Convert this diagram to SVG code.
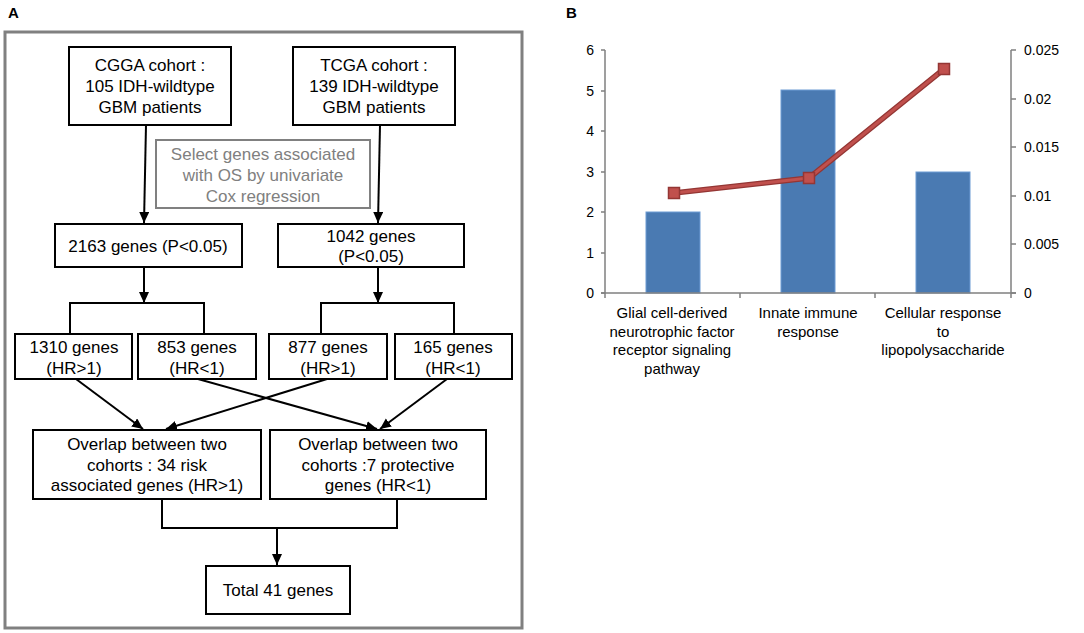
<svg xmlns="http://www.w3.org/2000/svg" width="1084" height="633" viewBox="0 0 1084 633">
<style>
text{font-family:"Liberation Sans",Arial,sans-serif;fill:#000}
.lbl{font-size:17px;text-anchor:middle}
.gray{fill:#808080}
.box{fill:#fff;stroke:#000;stroke-width:2}
.gbox{fill:#fff;stroke:#808080;stroke-width:2}
.ln{fill:none;stroke:#000;stroke-width:2}
.arr{fill:none;stroke:#000;stroke-width:2;marker-end:url(#ah)}
.panel{font-size:15px;font-weight:bold}
.tick{font-size:14px}
.xl{font-size:15px;text-anchor:middle}
.ax{stroke:#808080;stroke-width:1.5;fill:none}
.bar{fill:#4a7ab2;stroke:#6d9bd4;stroke-width:1}
</style>
<defs>
<marker id="ah" markerUnits="userSpaceOnUse" markerWidth="12" markerHeight="12" refX="11" refY="5" orient="auto">
<path d="M0,0 L11,5 L0,10 z" fill="#000"/>
</marker>
</defs>
<rect width="1084" height="633" fill="#fff"/>
<text class="panel" x="8" y="18">A</text>
<text class="panel" x="566" y="18">B</text>
<rect x="5" y="32" width="517" height="596" fill="none" stroke="#808080" stroke-width="3"/>

<g id="connectors">
<path class="arr" d="M146,125 L144,223"/>
<path class="arr" d="M380,125 L378,223"/>
<path class="arr" d="M144,267 L144,303"/>
<path class="arr" d="M378,267 L378,303"/>
<path class="ln" d="M70,333 V303 H204 V333"/>
<path class="ln" d="M321,333 V303 H454 V333"/>
<path class="arr" d="M76,379 L143,429"/>
<path class="arr" d="M327,379 L166,429"/>
<path class="arr" d="M198,379 L377,429"/>
<path class="arr" d="M447,379 L380,429"/>
<path class="ln" d="M162,499 V528 H397 V499"/>
<path class="arr" d="M277,528 L277,565"/>
</g>

<g id="cgga"><rect class="box" x="69" y="47" width="162" height="78"/>
<text class="lbl" x="150" y="71">CGGA cohort :</text><text class="lbl" x="150" y="92">105 IDH-wildtype</text><text class="lbl" x="150" y="113">GBM patients</text></g>
<g id="tcga"><rect class="box" x="293" y="47" width="162" height="78"/>
<text class="lbl" x="374" y="71">TCGA  cohort :</text><text class="lbl" x="374" y="92">139 IDH-wildtype</text><text class="lbl" x="374" y="113">GBM patients</text></g>
<g id="select"><rect class="gbox" x="156" y="140" width="214" height="68"/>
<text class="lbl gray" x="263" y="160">Select genes associated</text><text class="lbl gray" x="263" y="181">with OS by univariate</text><text class="lbl gray" x="263" y="202">Cox regression</text></g>
<g id="g2163"><rect class="box" x="55" y="224" width="187" height="43"/>
<text class="lbl" x="148" y="252">2163 genes (P&lt;0.05)</text></g>
<g id="g1042"><rect class="box" x="278" y="224" width="186" height="43"/>
<text class="lbl" x="371" y="242">1042 genes</text><text class="lbl" x="371" y="262">(P&lt;0.05)</text></g>
<g id="g1310"><rect class="box" x="15" y="334" width="117" height="45"/>
<text class="lbl" x="74" y="353">1310 genes</text><text class="lbl" x="74" y="374">(HR&gt;1)</text></g>
<g id="g853"><rect class="box" x="138" y="334" width="118" height="45"/>
<text class="lbl" x="197" y="353">853 genes</text><text class="lbl" x="197" y="374">(HR&lt;1)</text></g>
<g id="g877"><rect class="box" x="269" y="334" width="118" height="45"/>
<text class="lbl" x="328" y="353">877 genes</text><text class="lbl" x="328" y="374">(HR&gt;1)</text></g>
<g id="g165"><rect class="box" x="395" y="334" width="117" height="45"/>
<text class="lbl" x="453" y="353">165 genes</text><text class="lbl" x="453" y="374">(HR&lt;1)</text></g>
<g id="overlap1"><rect class="box" x="33" y="430" width="228" height="69"/>
<text class="lbl" x="147" y="450">Overlap between two</text><text class="lbl" x="147" y="471">cohorts : 34 risk</text><text class="lbl" x="147" y="491">associated genes (HR&gt;1)</text></g>
<g id="overlap2"><rect class="box" x="270" y="430" width="216" height="69"/>
<text class="lbl" x="378" y="450">Overlap between two</text><text class="lbl" x="378" y="471">cohorts :7 protective</text><text class="lbl" x="378" y="491">genes (HR&lt;1)</text></g>
<g id="total"><rect class="box" x="206" y="566" width="144" height="48"/>
<text class="lbl" x="278" y="596">Total 41 genes</text></g>

<g id="chart">
<rect class="bar" x="646" y="212" width="54" height="81"/>
<rect class="bar" x="781" y="90" width="54" height="203"/>
<rect class="bar" x="916" y="172" width="54" height="121"/>
<path class="ax" d="M605,50 V293 M601,50 H605 M601,91 H605 M601,131 H605 M601,172 H605 M601,212 H605 M601,253 H605 M601,293 H605"/>
<path class="ax" d="M1011,50 V293 M1011,50 H1016 M1011,99 H1016 M1011,147 H1016 M1011,196 H1016 M1011,244 H1016 M1011,293 H1016"/>
<path class="ax" d="M601,293 H1016 M605,293 V298 M740,293 V298 M875,293 V298 M1011,293 V298"/>
<g class="tick" text-anchor="end">
<text x="594" y="55">6</text><text x="594" y="96">5</text><text x="594" y="136">4</text><text x="594" y="177">3</text><text x="594" y="217">2</text><text x="594" y="258">1</text><text x="594" y="298">0</text>
</g>
<g class="tick">
<text x="1024" y="55">0.025</text><text x="1024" y="104">0.02</text><text x="1024" y="152">0.015</text><text x="1024" y="201">0.01</text><text x="1024" y="249">0.005</text><text x="1024" y="298">0</text>
</g>
<polyline points="674,193 809,178 944,69" fill="none" stroke="#943634" stroke-width="5.5" stroke-linejoin="round"/>
<polyline points="674,193 809,178 944,69" fill="none" stroke="#c0504d" stroke-width="3" stroke-linejoin="round"/>
<g fill="#c0504d" stroke="#943634" stroke-width="1.5">
<rect x="668.5" y="187.5" width="11" height="11"/>
<rect x="803.5" y="172.5" width="11" height="11"/>
<rect x="938.5" y="63.5" width="11" height="11"/>
</g>
<text class="xl" x="672" y="318">Glial cell-derived</text>
<text class="xl" x="672" y="337">neurotrophic factor</text>
<text class="xl" x="672" y="355">receptor signaling</text>
<text class="xl" x="672" y="374">pathway</text>
<text class="xl" x="808" y="318">Innate  immune</text>
<text class="xl" x="808" y="337">response</text>
<text class="xl" x="943" y="318">Cellular  response</text>
<text class="xl" x="943" y="337">to</text>
<text class="xl" x="943" y="355">lipopolysaccharide</text>
</g>
</svg>
